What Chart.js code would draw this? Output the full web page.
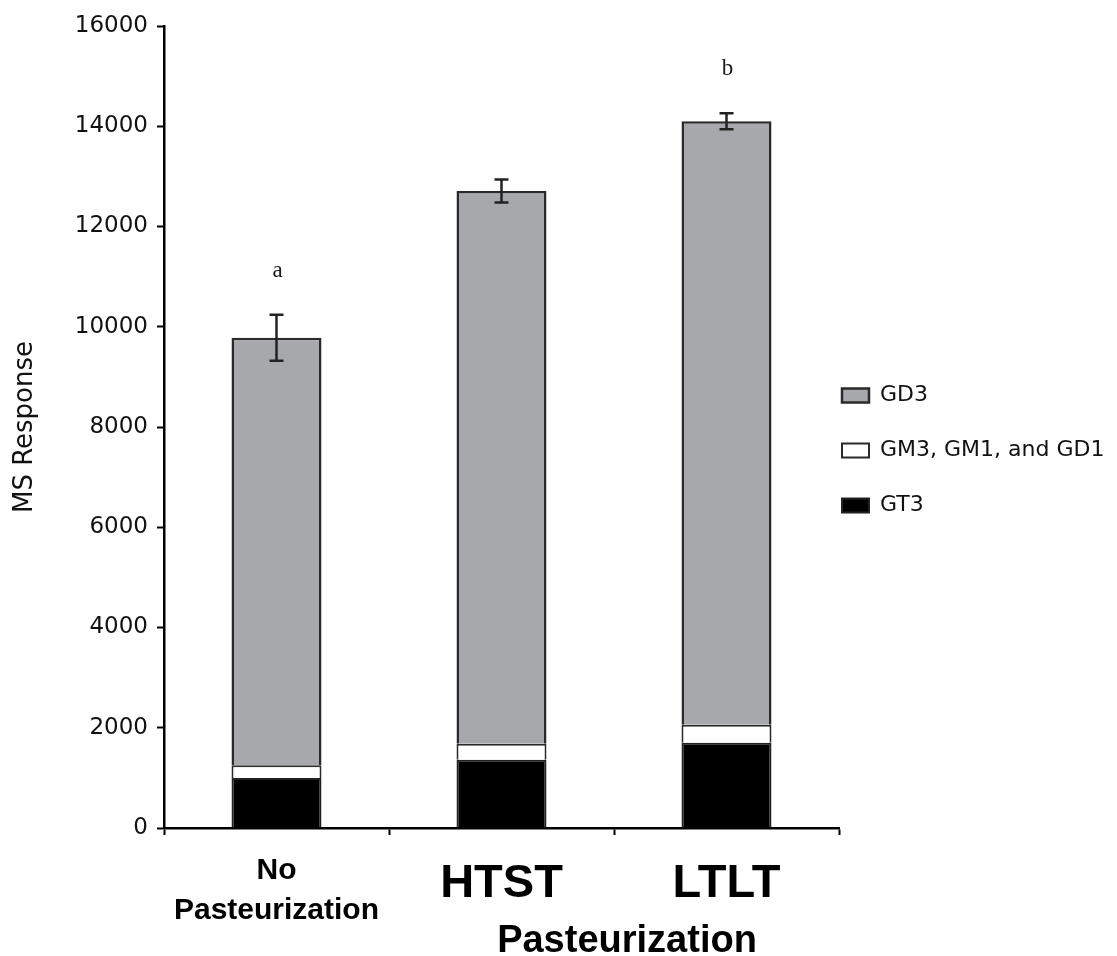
<!DOCTYPE html>
<html><head><meta charset="utf-8">
<script src="https://cdn.jsdelivr.net/npm/chart.js@4.4.1/dist/chart.umd.min.js"></script>
<style>html,body{margin:0;padding:0;background:#fff;} #wrap{width:1117px;height:956px;position:relative;}</style>
</head><body><div id="wrap"><canvas id="c"></canvas></div>
<script>
const categories = [['No', 'Pasteurization'], 'HTST', 'LTLT'];
const seriesNames = ['GT3', 'GM3, GM1, and GD1', 'GD3'];
const gt3 = [1000, 1360, 1700];
const gmSum = [250, 320, 360];
const gd3 = [8530, 11030, 12040];
const totalErr = [460, 230, 160];
const letters = ['a', '', 'b'];
const yTicks = [0, 2000, 4000, 6000, 8000, 10000, 12000, 14000, 16000];
const xTitle = 'Pasteurization';
const yTitle = 'MS Response';

const errorBars = {
  id: 'errorBars',
  afterDatasetsDraw(chart) {
    const ctx = chart.ctx, y = chart.scales.y, meta = chart.getDatasetMeta(2);
    ctx.save();
    ctx.strokeStyle = '#222'; ctx.lineWidth = 2.5;
    ctx.fillStyle = '#1a1a1a';
    ctx.font = '23px "Liberation Serif"';
    ctx.textAlign = 'center'; ctx.textBaseline = 'alphabetic';
    meta.data.forEach((bar, i) => {
      const total = gt3[i] + gmSum[i] + gd3[i];
      const yHi = y.getPixelForValue(total + totalErr[i]);
      const yLo = y.getPixelForValue(total - totalErr[i]);
      const x = bar.x;
      ctx.beginPath();
      ctx.moveTo(x, yHi); ctx.lineTo(x, yLo);
      ctx.moveTo(x - 7, yHi); ctx.lineTo(x + 7, yHi);
      ctx.moveTo(x - 7, yLo); ctx.lineTo(x + 7, yLo);
      ctx.stroke();
      if (letters[i]) ctx.fillText(letters[i], x + 1, yHi - 38);
    });
    ctx.restore();
  }
};

const xAxisTitle = {
  id: 'xAxisTitle',
  afterDraw(chart) {
    const ctx = chart.ctx;
    ctx.save();
    ctx.font = 'bold 38px "Liberation Sans"';
    ctx.fillStyle = '#000';
    ctx.textAlign = 'center'; ctx.textBaseline = 'alphabetic';
    ctx.fillText(xTitle, 627, 952);
    ctx.restore();
  }
};

const legendPlace = {
  id: 'legendPlace',
  afterLayout(chart) {
    const l = chart.legend;
    if (!l) return;
    l.left = 809; l.right = 1117; l.width = 308;
    l.top = 351.5; l.bottom = 956; l.height = 604.5;
  }
};

new Chart(document.getElementById('c'), {
  type: 'bar',
  data: {
    labels: categories,
    datasets: [
      { label: seriesNames[0], data: gt3, backgroundColor: '#000000', borderColor: '#222', borderWidth: 2 },
      { label: seriesNames[1], data: gmSum, backgroundColor: '#ffffff', borderColor: '#2a2a2a', borderWidth: 2 },
      { label: seriesNames[2], data: gd3, backgroundColor: '#a7a8ab', borderColor: '#2a2a2a', borderWidth: 2.5 }
    ]
  },
  options: {
    responsive: true,
    maintainAspectRatio: false,
    animation: false,
    devicePixelRatio: 1,
    layout: { padding: { top: 26, right: 278, bottom: 0, left: 0 } },
    datasets: { bar: { barPercentage: 0.4, categoryPercentage: 1 } },
    plugins: {
      tooltip: { enabled: false },
      legend: {
        position: 'chartArea',
        align: 'start',
        reverse: true,
        labels: {
          boxWidth: 27, boxHeight: 14, padding: 33,
          color: '#111',
          font: { family: 'DejaVu Sans', size: 22 }
        }
      }
    },
    scales: {
      x: {
        stacked: true,
        grid: { drawOnChartArea: false, drawTicks: true, tickLength: 7, tickWidth: 2, tickColor: '#000' },
        border: { display: true, color: '#000', width: 2.5 },
        ticks: {
          autoSkip: false, maxRotation: 0, minRotation: 0, padding: 16, color: '#000',
          font: (c) => c.index === 0
            ? { family: 'Liberation Sans', size: 30, weight: 'bold', lineHeight: 1.333 }
            : { family: 'Liberation Sans', size: 47, weight: 'bold', lineHeight: 1.4 }
        },
        afterFit: (s) => { s.height = 128; }
      },
      y: {
        stacked: true,
        min: 0, max: 16000,
        afterBuildTicks: (s) => { s.ticks = yTicks.map(v => ({ value: v })); },
        grid: { drawOnChartArea: false, drawTicks: true, tickLength: 7, tickWidth: 2, tickColor: '#000' },
        border: { display: true, color: '#000', width: 2.5 },
        ticks: {
          padding: 9, color: '#111',
          font: { family: 'DejaVu Sans', size: 23 },
          callback: (v) => String(v)
        },
        title: {
          display: true, text: yTitle, color: '#111',
          font: { family: 'DejaVu Sans', size: 26 },
          padding: { top: 10, bottom: 0 }
        },
        afterFit: (s) => { s.width = 164; }
      }
    }
  },
  plugins: [errorBars, xAxisTitle, legendPlace]
});
</script>
</body></html>
